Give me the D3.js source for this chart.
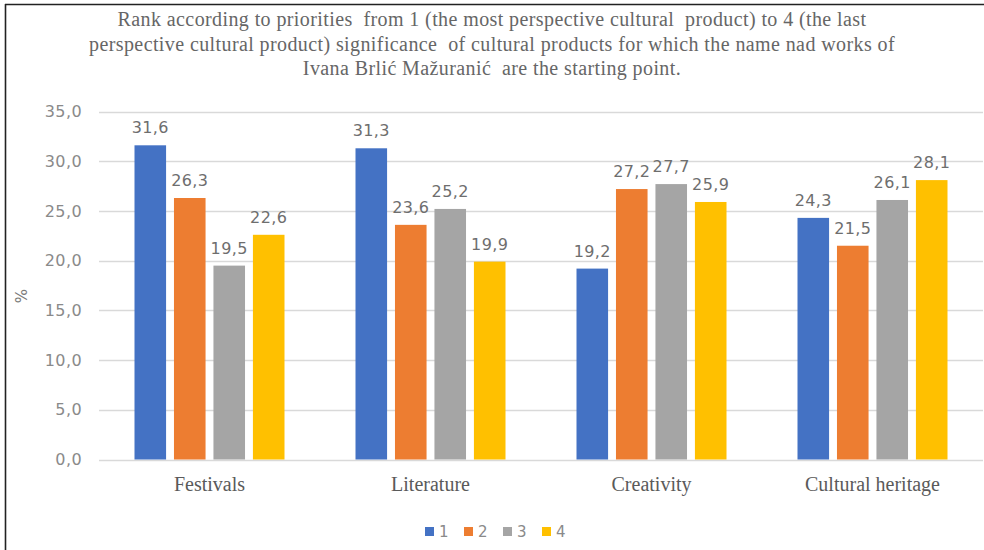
<!DOCTYPE html>
<html><head><meta charset="utf-8">
<script src="https://cdn.jsdelivr.net/npm/d3@7"></script>
<style>html,body{margin:0;padding:0;background:#fff;}svg{display:block;} .pre{white-space:pre;}</style>
</head><body>
<script>
const categories = ["Festivals", "Literature", "Creativity", "Cultural heritage"];
const seriesNames = ["1", "2", "3", "4"];
const values1 = [31.6, 31.3, 19.2, 24.3];
const values2 = [26.3, 23.6, 27.2, 21.5];
const values3 = [19.5, 25.2, 27.7, 26.1];
const values4 = [22.6, 19.9, 25.9, 28.1];
const yTicks = [0, 5, 10, 15, 20, 25, 30, 35];
const titleLines = [
  "Rank according to priorities  from 1 (the most perspective cultural  product) to 4 (the last",
  "perspective cultural product) significance  of cultural products for which the name nad works of",
  "Ivana Brlić Mažuranić  are the starting point."
];
const colors = ["#4472C4", "#ED7D31", "#A5A5A5", "#FFC000"];

const W = 984, H = 550;
const svg = d3.select("body").append("svg").attr("width", W).attr("height", H);
svg.append("rect").attr("x", 0).attr("y", 0).attr("width", W).attr("height", H).attr("fill", "#fff");
svg.append("line").attr("x1", 5).attr("x2", W).attr("y1", 4.5).attr("y2", 4.5)
  .attr("stroke", "#222").attr("stroke-width", 1.6);
svg.append("line").attr("x1", 5.5).attr("x2", 5.5).attr("y1", 4).attr("y2", H)
  .attr("stroke", "#222").attr("stroke-width", 1.6);

const seriesVals = [values1, values2, values3, values4];
const data = categories.map((c, i) => ({cat: c, vals: seriesNames.map((s, j) => ({s, v: seriesVals[j][i]}))}));

const x0 = d3.scaleBand().domain(categories).range([99, 983]).padding(0);
const x1 = d3.scaleBand().domain(seriesNames).range([(x0.bandwidth() - 150) / 2, (x0.bandwidth() + 150) / 2]).paddingInner(0.2);
const y = d3.scaleLinear().domain([0, 35]).range([459.5, 111.5]);

// gridlines
svg.append("g").selectAll("line").data(yTicks).join("line")
  .attr("x1", 99).attr("x2", 983)
  .attr("y1", d => Math.round(y(d)) + 0.5).attr("y2", d => Math.round(y(d)) + 0.5)
  .attr("stroke", "#d9d9d9").attr("stroke-width", 1.3);

// y axis labels
const yAxis = d3.axisLeft(y).tickValues(yTicks).tickSize(0).tickPadding(0)
  .tickFormat(d => d3.format(".1f")(d).replace(".", ","));
const ya = svg.append("g").attr("transform", "translate(82,0)").call(yAxis);
ya.select(".domain").remove();
ya.selectAll("text").attr("font-family", "DejaVu Sans, sans-serif").attr("font-size", 16)
  .attr("letter-spacing", 0.4).attr("fill", "#8a8a8a");

svg.append("text").attr("transform", "translate(27,296) rotate(-90)")
  .attr("text-anchor", "middle").attr("font-family", "DejaVu Sans, sans-serif")
  .attr("font-size", 15).attr("fill", "#7a7a7a").text("%");

// bars
const g = svg.append("g").selectAll("g").data(data).join("g")
  .attr("transform", d => `translate(${x0(d.cat)},0)`);
g.selectAll("rect").data(d => d.vals).join("rect")
  .attr("x", d => x1(d.s)).attr("width", x1.bandwidth())
  .attr("y", d => y(d.v)).attr("height", d => y(0) - y(d.v))
  .attr("fill", (d, i) => colors[i]);
g.selectAll("text").data(d => d.vals).join("text")
  .attr("x", d => x1(d.s) + x1.bandwidth() / 2).attr("y", d => y(d.v) - 12)
  .attr("text-anchor", "middle").attr("font-family", "DejaVu Sans, sans-serif")
  .attr("font-size", 16).attr("letter-spacing", 0.4).attr("fill", "#6e6e6e")
  .text(d => d3.format(".1f")(d.v).replace(".", ","));

// x axis labels
const xAxis = d3.axisBottom(x0).tickSize(0).tickPadding(0);
const xa = svg.append("g").attr("transform", "translate(0,491)").call(xAxis);
xa.select(".domain").remove();
xa.selectAll("text").attr("font-family", "Liberation Serif, serif").attr("font-size", 20)
  .attr("fill", "#5a5a5a").attr("dy", 0);

// title
svg.append("g").selectAll("text").data(titleLines).join("text")
  .attr("class", "pre")
  .attr("x", 492).attr("y", (d, i) => 26 + i * 24.5)
  .attr("text-anchor", "middle").attr("font-family", "Liberation Serif, serif")
  .attr("font-size", 20).attr("letter-spacing", 0.4).attr("fill", "#666")
  .text(d => d);

// legend
const lg = svg.append("g").selectAll("g").data(seriesNames).join("g")
  .attr("transform", (d, i) => `translate(${425 + i * 39},0)`);
lg.append("rect").attr("x", 0).attr("y", 527).attr("width", 9).attr("height", 9)
  .attr("fill", (d, i) => colors[i]);
lg.append("text").attr("x", 14).attr("y", 537).attr("font-family", "DejaVu Sans, sans-serif")
  .attr("font-size", 15).attr("fill", "#8a8a8a").text(d => d);
</script>
</body></html>
